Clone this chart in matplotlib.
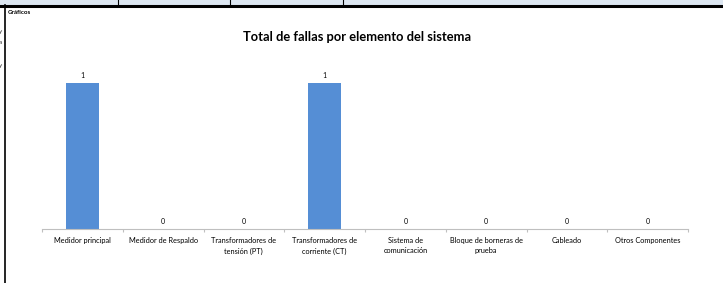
import matplotlib
matplotlib.use("Agg")
import matplotlib.pyplot as plt
from matplotlib.lines import Line2D
from matplotlib.patches import Rectangle

plt.rcParams["font.family"] = ["Lato", "DejaVu Sans"]

# datos del gráfico
categorias = [
    "Medidor principal",
    "Medidor de Respaldo",
    "Transformadores de\ntensión (PT)",
    "Transformadores de\ncorriente (CT)",
    "Sistema de\ncomunicación",
    "Bloque de borneras de\nprueba",
    "Cableado",
    "Otros Componentes",
]
fallas = [1, 0, 0, 1, 0, 0, 0, 0]
titulo = "Total de fallas por elemento del sistema"

W, H = 723, 283
fig = plt.figure(figsize=(W / 100, H / 100), dpi=100)


def fx(px):
    return px / W


def fy(py):
    return 1 - py / H


# marco de la hoja (cabecera azul, líneas)
fig.add_artist(Rectangle((0, fy(5)), 1, 5 / H, transform=fig.transFigure,
                         facecolor="#dce6f1", edgecolor="none"))
fig.add_artist(Line2D([0, 1], [fy(6), fy(6)], transform=fig.transFigure,
                      color="black", lw=2.2))
for x in [118, 230, 343]:
    fig.add_artist(Line2D([fx(x), fx(x)], [fy(0), fy(5)], transform=fig.transFigure,
                          color="black", lw=0.8))
fig.add_artist(Line2D([fx(5), fx(5)], [0, fy(5)], transform=fig.transFigure,
                      color="black", lw=1.2))
fig.text(fx(8), fy(12), "Gráficos", fontsize=4.5, fontweight="bold", va="center")
for y, s in [(32, "y"), (43, "a"), (65, "y")]:
    fig.text(fx(-1), fy(y), s, fontsize=4.5, va="center", color="#333333")

# gráfico de barras
ax = fig.add_axes([fx(42), fy(229), fx(688) - fx(42), fy(83) - fy(229)])
pos = list(range(len(categorias)))
ax.bar(pos, fallas, width=0.4, color="#558ed5")
ax.set_xlim(-0.5, len(categorias) - 0.5)
ax.set_ylim(0, 1)

for x, v in zip(pos, fallas):
    ax.annotate(str(v), (x, v), xytext=(0, 3), textcoords="offset points",
                ha="center", va="bottom", fontsize=5, clip_on=False)

for s in ["top", "right", "left"]:
    ax.spines[s].set_visible(False)
ax.spines["bottom"].set_color("#bfbfbf")
ax.spines["bottom"].set_linewidth(0.8)
ax.set_yticks([])
ax.set_xticks([p - 0.5 for p in pos] + [len(pos) - 0.5])
ax.set_xticklabels([])
ax.tick_params(axis="x", length=2.5, color="#bfbfbf", width=0.8)
ax.set_xticks(pos, minor=True)
ax.set_xticklabels(categorias, minor=True, fontsize=5.3, linespacing=1.5)
ax.tick_params(axis="x", which="minor", length=0, pad=6)

fig.text(fx(357), fy(37), titulo, ha="center", va="center",
         fontsize=9.3, fontweight="bold")

fig.savefig("out.png", dpi=100)
